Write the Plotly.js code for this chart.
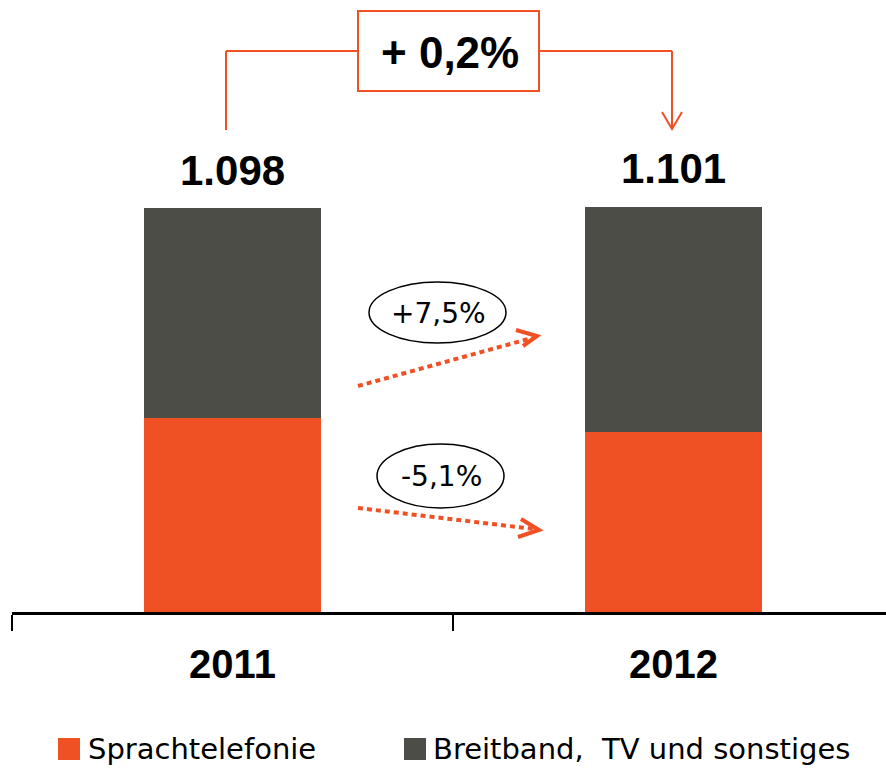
<!DOCTYPE html>
<html>
<head>
<meta charset="utf-8">
<script src="https://cdn.plot.ly/plotly-3.0.1.min.js"></script>
<style>html,body{margin:0;padding:0;background:#fff;}#chart{width:886px;height:771px;}</style>
</head>
<body>
<div id="chart"></div>
<script>
// ---- data ----
const categories = ['2011', '2012'];
const sprachtelefonie = [527, 489];
const breitband = [571, 612];
const seriesNames = ['Sprachtelefonie', 'Breitband,\u00a0 TV und sonstiges'];
const growthBreitband = '+7,5%';
const growthSprach = '-5,1%';
const totalChange = '+ 0,2%';

// ---- styles ----
const ORANGE = '#EF5024';
const DARK = '#4D4D48';
const W = 886, H = 771;
const M = {l: 12, r: 0, t: 0, b: 159};
const plotW = W - M.l - M.r, plotH = H - M.t - M.b;
const px = x => (x - M.l) / plotW;
const py = y => (H - M.b - y) / plotH;

const totals = categories.map((c, i) => sprachtelefonie[i] + breitband[i]);
const fmt = v => {
  const s = String(Math.round(v));
  return s.length > 3 ? s.slice(0, s.length - 3) + '.' + s.slice(-3) : s;
};

const unitPx = 404 / totals[0];
const yMax = plotH / unitPx;

const traces = [
  {type: 'bar', x: categories, y: sprachtelefonie, name: seriesNames[0],
   marker: {color: ORANGE, line: {width: 0}}, width: 0.4, hoverinfo: 'skip', showlegend: false},
  {type: 'bar', x: categories, y: breitband, name: seriesNames[1],
   marker: {color: DARK, line: {width: 0}}, width: 0.4, hoverinfo: 'skip', showlegend: false}
];

const line = (x0, y0, x1, y1, color, width, dash) => ({
  type: 'line', xref: 'paper', yref: 'paper', x0: px(x0), y0: py(y0), x1: px(x1), y1: py(y1),
  line: {color: color, width: width, dash: dash || 'solid'}
});
const vhead = (tx, ty, ax, ay, bx, by, color, width) => ({
  type: 'path', xref: 'paper', yref: 'paper',
  path: `M${px(ax)},${py(ay)} L${px(tx)},${py(ty)} L${px(bx)},${py(by)}`,
  line: {color: color, width: width}
});

const shapes = [
  // top bracket
  line(226, 130, 226, 51, ORANGE, 2),
  line(226, 51, 358, 51, ORANGE, 2),
  line(539, 51, 672, 51, ORANGE, 2),
  line(672, 51, 672, 129, ORANGE, 2),
  vhead(672, 129, 662, 112, 682, 112, ORANGE, 2),
  {type: 'rect', xref: 'paper', yref: 'paper', x0: px(358), y0: py(11), x1: px(539), y1: py(91),
   line: {color: ORANGE, width: 2}, fillcolor: 'white'},
  // ellipses
  {type: 'circle', xref: 'paper', yref: 'paper', x0: px(369), y0: py(282), x1: px(506), y1: py(343),
   line: {color: 'black', width: 1.5}},
  {type: 'circle', xref: 'paper', yref: 'paper', x0: px(377), y0: py(444), x1: px(504), y1: py(508),
   line: {color: 'black', width: 1.5}},
  // dotted arrows
  line(358, 386, 532, 338, ORANGE, 4, '5px,4px'),
  vhead(537, 336, 516, 330, 523, 346, ORANGE, 4),
  line(358, 508, 534, 529, ORANGE, 4, '5px,4px'),
  vhead(539, 530, 521, 519, 518, 537, ORANGE, 4),
  // legend swatches
  {type: 'rect', xref: 'paper', yref: 'paper', x0: px(58), y0: py(738), x1: px(80), y1: py(760),
   line: {width: 0}, fillcolor: ORANGE},
  {type: 'rect', xref: 'paper', yref: 'paper', x0: px(404), y0: py(738), x1: px(426), y1: py(760),
   line: {width: 0}, fillcolor: DARK}
];

const boldFont = s => ({family: 'Liberation Sans, Arial, sans-serif', size: s, color: 'black', weight: 'bold'});
const regFont = s => ({family: 'DejaVu Sans, sans-serif', size: s, color: 'black'});

const annotations = [];
categories.forEach((c, i) => {
  annotations.push({x: i, y: totals[i], xref: 'x', yref: 'y', text: fmt(totals[i]),
    showarrow: false, xanchor: 'center', yanchor: 'middle', yshift: 38, font: boldFont(42)});
});
annotations.push({xref: 'paper', yref: 'paper', x: px(450), y: py(52), text: totalChange,
  showarrow: false, xanchor: 'center', yanchor: 'middle', font: boldFont(44)});
annotations.push({xref: 'paper', yref: 'paper', x: px(438), y: py(313), text: growthBreitband,
  showarrow: false, xanchor: 'center', yanchor: 'middle', font: regFont(28)});
annotations.push({xref: 'paper', yref: 'paper', x: px(441), y: py(476), text: growthSprach,
  showarrow: false, xanchor: 'center', yanchor: 'middle', font: regFont(28)});
annotations.push({xref: 'paper', yref: 'paper', x: px(86), y: py(749), text: seriesNames[0],
  showarrow: false, xanchor: 'left', yanchor: 'middle', font: regFont(29)});
annotations.push({xref: 'paper', yref: 'paper', x: px(431), y: py(749), text: seriesNames[1],
  showarrow: false, xanchor: 'left', yanchor: 'middle', font: regFont(29)});

const layout = {
  width: W, height: H,
  margin: M,
  paper_bgcolor: 'white', plot_bgcolor: 'white',
  barmode: 'stack',
  showlegend: false,
  xaxis: {
    type: 'category', range: [-0.5, -0.5 + plotW / 441],
    showline: true, linecolor: 'black', linewidth: 3,
    ticks: 'outside', tickson: 'boundaries', ticklen: 16, tickwidth: 2, tickcolor: 'black',
    tickfont: boldFont(40), ticklabelstandoff: 15,
    showgrid: false, zeroline: false, fixedrange: true
  },
  yaxis: {range: [0, yMax], visible: false, showgrid: false, zeroline: false, fixedrange: true},
  shapes: shapes,
  annotations: annotations
};

Plotly.newPlot('chart', traces, layout, {displayModeBar: false, staticPlot: true});
</script>
</body>
</html>
